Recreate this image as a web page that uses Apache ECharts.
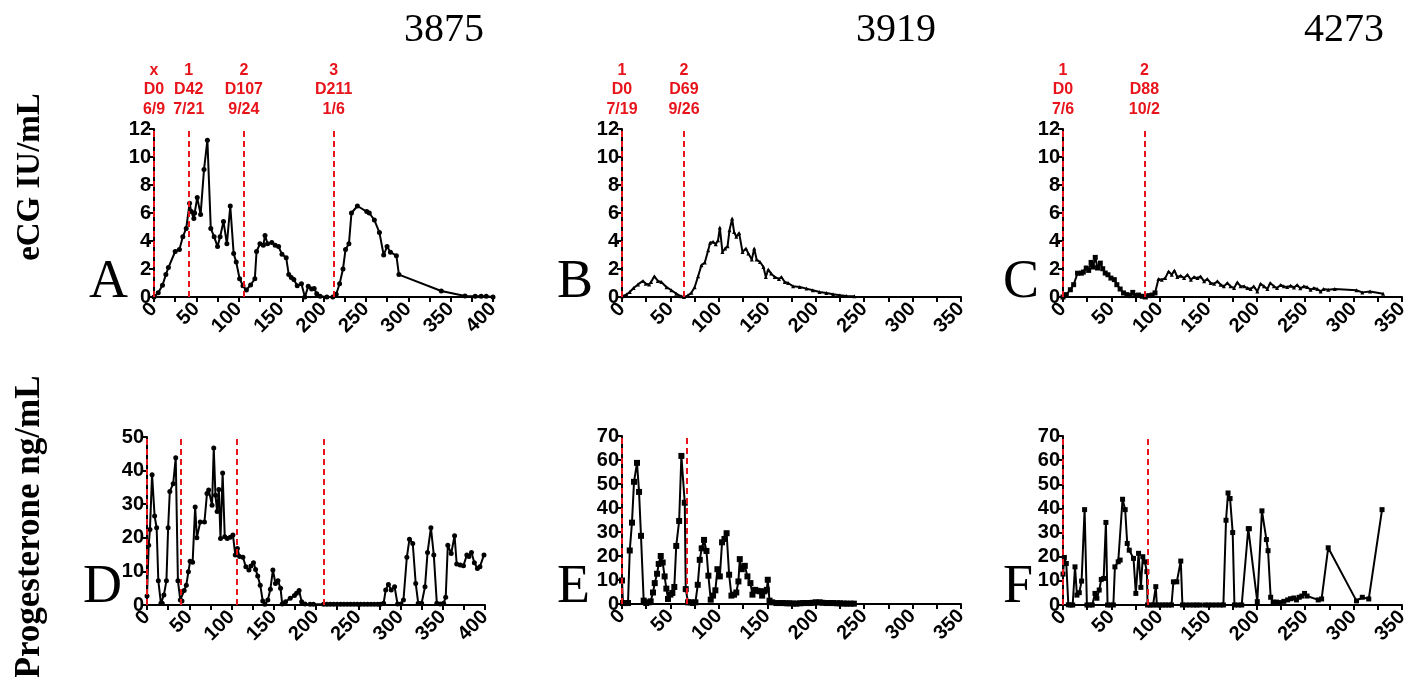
<!DOCTYPE html>
<html>
<head>
<meta charset="utf-8">
<script src="https://cdn.jsdelivr.net/npm/echarts@6/dist/echarts.min.js"></script>
<style>
html,body{margin:0;padding:0;background:#fff;}
#chart{width:1419px;height:677px;}
</style>
</head>
<body>
<div id="chart"></div>
<script>
// ---------- DATA ----------
var animalIds = ['3875', '3919', '4273'];
var panelLetters = ['A', 'B', 'C', 'D', 'E', 'F'];

var ecg3875 = [[0,0],[5,0.3],[10,0.84],[14,1.6],[17,2.1],[25,3.25],[30,3.4],[34,4.3],[38,4.9],[42,6.7],[44,6.1],[47,5.6],[48,6.0],[51,7.1],[55,5.9],[59,9.1],[63,11.2],[67,4.9],[71,4.3],[75,3.6],[78,4.3],[82,5.4],[86,3.8],[90,6.5],[94,3.1],[97,2.5],[101,1.3],[105,0.8],[109,0.5],[114,0.86],[119,1.3],[121,3.25],[125,3.8],[129,3.7],[131,4.4],[134,3.8],[139,3.9],[143,3.7],[147,3.6],[151,3.05],[156,2.8],[159,1.6],[162,1.4],[165,1.25],[169,0.8],[174,0.95],[178,0],[182,0.76],[186,0.57],[189,0.6],[192,0.24],[196,0.05],[204,0],[211,0],[215,0.2],[219,0.95],[223,2.0],[226,3.4],[230,3.8],[233,6.0],[240,6.5],[251,6.1],[254,6.0],[260,5.5],[266,4.6],[271,3.0],[275,3.6],[279,3.2],[286,2.95],[289,1.6],[339,0.43],[367,0.07],[379,0.05],[386,0.05],[392,0.05],[400,0]];

var ecg3919 = [[0,0.05],[4.5,0.17],[8,0.36],[12,0.64],[16.5,0.9],[21.7,1.15],[24.5,0.95],[28,0.9],[30,1.07],[33.4,1.48],[37,1.15],[40.6,1.07],[46,0.7],[51,0.48],[56,0.24],[61,0.05],[64,0],[68,0.1],[71.6,0.31],[75,0.7],[78.6,1.48],[82,2.27],[85.5,2.46],[89,3.34],[91,3.87],[94,3.94],[96.8,3.77],[99.2,4.06],[101,4.96],[103.7,3.22],[106.5,3.46],[109,3.63],[111,4.77],[113.7,5.6],[115.7,4.65],[118,4.3],[120.9,4.58],[124.4,3.22],[128,3.46],[130.5,3.1],[134,2.67],[136.5,3.46],[139,2.67],[142.5,2.5],[146,2.15],[148.5,1.43],[151,1.96],[154,1.67],[157.7,1.43],[162,1.29],[164.6,1.43],[168,1.07],[171.5,1.0],[176.7,0.76],[183.6,0.72],[190.5,0.6],[197,0.48],[204,0.36],[211,0.29],[218,0.19],[225,0.12],[232,0.07],[240,0.05]];

var ecg4273 = [[0,0],[3.4,0.17],[7.6,0.52],[11,0.88],[15,1.7],[19,1.7],[21,1.78],[24,2.07],[26.5,1.9],[29,2.47],[31,2.14],[33.3,2.83],[35.7,2.07],[38.5,2.42],[41,2.02],[43.6,1.71],[46.4,1.59],[49.5,1.35],[53,1.24],[55.6,0.88],[59,0.57],[62.5,0.29],[66,0.17],[69.4,0.1],[72,0.33],[75,0.1],[78,0.14],[82,0.05],[85,0],[88.6,0.1],[92,0.14],[95,0.29],[98.6,1.28],[102,1.24],[105.5,1.35],[109,1.83],[112.3,1.59],[115,1.9],[118,1.43],[121.6,1.52],[125,1.35],[128.5,1.59],[132,1.24],[135.3,1.43],[138.8,1.35],[142,1.47],[145.7,1.12],[149,1.28],[152.5,1.0],[156,0.95],[159.4,1.12],[162.8,0.88],[166,0.76],[169.7,1.0],[173,0.76],[176.6,0.64],[180,1.05],[183.4,0.76],[187,0.76],[190.3,0.64],[193.7,0.57],[197,0.76],[200.6,0.4],[204,0.95],[207.5,0.76],[211,0.57],[214,1.0],[217.8,0.76],[221,0.64],[224.7,0.86],[228,0.76],[231.5,0.71],[235,0.81],[238.4,0.67],[241.8,0.86],[245,0.62],[248.7,0.76],[252,0.71],[255.6,0.52],[259,0.64],[262.5,0.57],[266,0.4],[269,0.57],[273.8,0.52],[280.6,0.57],[303,0.48],[309,0.33],[317,0.4],[330.5,0.24]];

var prog3875 = [[0,2.7],[2,17.8],[3.5,22.5],[6,38.8],[9,26.5],[11.4,23],[13.4,7.2],[16.5,0.5],[18,0.5],[20,3],[23,7.2],[25,23],[27,33.8],[31,36.1],[34,43.8],[36.6,7.2],[39.4,1.5],[41.4,1.2],[44,4.3],[46.5,5.9],[49,9.9],[51,13],[54,12.7],[57,29.2],[59,20],[63,24.7],[68,24.7],[71,33.2],[73,34.2],[77,29.7],[79,46.7],[81,32.7],[83,27.8],[85,34.4],[87,19.8],[89.5,39.3],[92,20.3],[95,19.8],[98.5,20.2],[101.7,20.8],[104.5,14.9],[107,16.8],[109.5,14.4],[113.5,14.2],[117,11.4],[120.6,10.4],[123,11.6],[126,12.6],[128.5,10.6],[131,8.6],[134,5.9],[137,1.2],[139.5,0.2],[143,1.5],[146,4.7],[149,10.4],[152,6.4],[155,7.2],[158,5],[160,0.3],[164,1],[169.5,2],[174.5,2.8],[177,3.5],[180,4.3],[183,1],[187,0.3],[193,0.2],[197,0.2],[209,0.2],[213,0.2],[217,0.2],[221,0.2],[225,0.2],[229,0.2],[233,0.2],[237,0.2],[241,0.2],[245,0.2],[249,0.2],[253,0.2],[257,0.2],[261,0.2],[265,0.2],[269,0.2],[273,0.2],[276,0.2],[280,0.5],[282.5,4.5],[285.7,6.1],[289,4.5],[293,5.4],[296.5,0.3],[300.5,0.3],[303.5,1.5],[307.5,14.2],[310.6,19.6],[314.5,18.3],[318,6.4],[321,0.5],[325,0.5],[329,5.4],[332,15.6],[336,23],[339.4,14.9],[343,0.5],[347,0.3],[351,0.5],[353.5,2.3],[356,17.8],[360,15.3],[364,20.6],[366.5,12.2],[370.6,11.9],[374.5,11.7],[378.5,14.9],[381,14.4],[384,15.6],[387.4,12.6],[391,10.9],[394,11.4],[398.8,14.9]];

var prog3919 = [[0,9.8],[1,0.4],[3.4,0.4],[6.2,0.4],[8,22.3],[10.3,33.9],[12.4,50.9],[15.5,58.8],[17.6,46.7],[19.6,28.4],[22.4,1.4],[25,0.4],[27.5,0.7],[29.6,1.1],[32,4.8],[33.8,8.7],[36.2,12.6],[37.9,16.7],[40,20],[42,17.3],[44,11.5],[45.8,6.4],[47.5,2.1],[50,3.9],[52,4.6],[54,7.1],[56,24.2],[59,34.6],[61.3,61.7],[64.8,42.2],[65.8,6.2],[68.2,0.7],[71,0.7],[73.4,0.4],[75.8,0.7],[78.2,8.0],[80.3,18.4],[82.3,23.2],[84.7,26.7],[87.2,22.1],[89.2,11.8],[91.6,1.8],[94,3.5],[96.4,5.7],[98.5,14.5],[101,11.5],[103.3,25.7],[105.8,27.1],[108,29.5],[110.6,12.2],[113,3.5],[115.7,3.9],[118,4.8],[120.2,9.4],[121.6,18.7],[123.7,14.5],[126.8,15.9],[129.5,11.5],[132.6,8.7],[134.7,3.9],[137.4,5.9],[139.9,5.5],[142.3,5.3],[144.7,3.5],[147,5.3],[149.5,5.9],[150.5,10.1],[152.3,1.4],[155,0.7],[159.5,0.4],[163,0.4],[166.4,0.4],[170,0.3],[173,0.3],[177,0.2],[180,0.15],[184,0.3],[187,0.4],[191,0.4],[194,0.4],[197,0.5],[200,0.7],[204,0.7],[207,0.5],[211,0.4],[215,0.4],[218,0.4],[222,0.3],[225,0.3],[229,0.2],[232,0.15],[236,0.15],[239.4,0.15]];

var prog4273 = [[0,12.8],[1.4,19.7],[3.4,17.2],[5.5,0.1],[7.6,0],[10,0],[12.4,15.8],[14.4,4.1],[16.8,5.1],[19.2,9.9],[22.3,39.5],[24.7,0],[27.5,0],[30.2,0],[33,4.8],[35,2.8],[37.4,6.2],[39.5,10.6],[42,11],[44.3,34.2],[46,0],[48.8,0],[52,0],[53.6,15.8],[57,17.9],[59,18.6],[61.5,43.8],[64.2,39.5],[66.3,25.5],[68.4,22.7],[72.8,19.3],[75.2,4.8],[78,21.4],[80.4,7.3],[82.4,20.0],[84.5,17.9],[86.6,13.8],[87.3,0],[90,0],[93,0],[95.8,7.6],[96.9,0],[100,0],[103,0],[106,0],[109,0],[112,0],[114,9.6],[117.5,9.6],[121.6,18.2],[123.3,0],[127,0],[131,0],[135,0],[138,0],[141.5,0],[146.7,0],[150,0],[154,0],[158,0],[162,0],[165.6,0],[168.3,35.1],[170.4,46.4],[172.5,44.1],[175.2,30],[177,0],[181,0],[184.5,0],[191.3,31.6],[192.4,31.6],[200.6,1.4],[205.4,39],[210,27.1],[211.7,22.5],[214.4,3.2],[217,1.2],[220.5,1.2],[224,1.0],[228,1.5],[231.9,2.1],[235,2.6],[238.4,2.9],[241,2.1],[243.9,3.2],[246.6,3.7],[249.4,4.8],[252,3.7],[263.5,2.1],[267,2.5],[273.8,23.7],[303,1.7],[309,3.2],[315.7,2.5],[329.4,39.5]];

// vertical event markers: [day position, label]
var events3875 = [[0,'x\nD0\n6/9'],[41,'1\nD42\n7/21'],[106,'2\nD107\n9/24'],[212,'3\nD211\n1/6']];
var events3875P = [[0,''],[40,''],[106,''],[209,'']];
var events3919 = [[0,'1\nD0\n7/19'],[64,'2\nD69\n9/26']];
var events3919P = [[0,''],[67,'']];
var events4273 = [[0,'1\nD0\n7/6'],[84,'2\nD88\n10/2']];
var events4273P = [[0,''],[87,'']];
// day from which the 4273 eCG series is plotted with triangle markers
var ecg4273TriangleFrom = 96;

// ---------- LAYOUT ----------
var grids = [
  {left:154, top:129, width:339, height:168},
  {left:622, top:129, width:339, height:168},
  {left:1063, top:129, width:339, height:168},
  {left:147, top:437, width:338, height:168},
  {left:622, top:436, width:339, height:168},
  {left:1063, top:436, width:339, height:169}
];
var xMaxes = [400, 350, 350, 400, 350, 350];
var yMaxes = [12, 12, 12, 50, 70, 70];
var yIntervals = [2, 2, 2, 10, 10, 10];
var seriesData = [ecg3875, ecg3919, ecg4273, prog3875, prog3919, prog4273];
var eventData = [events3875, events3919, events4273, events3875P, events3919P, events4273P];
var symbols = ['circle', 'triangle', 'rect', 'circle', 'rect', 'rect'];
var symbolSizes = [5, 4, 5, 5, 6, 5];

var sansBold = {fontFamily:'Liberation Sans', fontWeight:'bold', color:'#000'};

var xAxes = [], yAxes = [], series = [];
for (var i = 0; i < 6; i++) {
  xAxes.push({
    gridIndex:i, type:'value', min:0, max:xMaxes[i], interval:50,
    axisLine:{show:true, onZero:false, lineStyle:{color:'#000', width:2}},
    axisTick:{show:true, length:5, lineStyle:{color:'#000', width:2}},
    minorTick:{show:true, splitNumber:2, length:5, lineStyle:{color:'#000', width:2}},
    splitLine:{show:false},
    axisLabel:Object.assign({rotate:45, fontSize:20, margin:9}, sansBold)
  });
  yAxes.push({
    gridIndex:i, type:'value', min:0, max:yMaxes[i], interval:yIntervals[i],
    axisLine:{show:true, lineStyle:{color:'#000', width:2}},
    axisTick:{show:true, length:5, lineStyle:{color:'#000', width:2}},
    splitLine:{show:false},
    axisLabel:Object.assign({fontSize:20, margin:3}, sansBold)
  });
  var ml = eventData[i].map(function (e) {
    return {xAxis:e[0], label:{formatter:e[1]}};
  });
  var data = seriesData[i];
  if (i === 2) {
    data = data.map(function (p) {
      return p[0] >= ecg4273TriangleFrom ? {value:p, symbol:'triangle', symbolSize:4} : p;
    });
  }
  series.push({
    type:'line', xAxisIndex:i, yAxisIndex:i,
    data:data,
    symbol:symbols[i], symbolSize:symbolSizes[i], showAllSymbol:true,
    lineStyle:{color:'#000', width:2},
    itemStyle:{color:'#000'},
    z:3,
    markLine:{
      silent:true, symbol:['none','none'], animation:false,
      lineStyle:{color:'#e8141b', type:[6,4], width:2},
      label:{show:true, position:'end', color:'#e8141b', fontFamily:'Liberation Sans',
             fontWeight:'bold', fontSize:16, lineHeight:19.5, distance:10},
      data:ml
    }
  });
}

var serif = 'Liberation Serif';
var titles = [
  {text:animalIds[0], left:399, top:5},
  {text:animalIds[1], left:851, top:5},
  {text:animalIds[2], left:1299, top:5}
].map(function (t) {
  t.textStyle = {fontFamily:serif, fontSize:40, fontWeight:'normal', color:'#000'};
  return t;
});
var letterPos = [[84,251],[552,251],[998,251],[78,556],[552,556],[998,556]];
letterPos.forEach(function (p, k) {
  titles.push({text:panelLetters[k], left:p[0], top:p[1],
    textStyle:{fontFamily:serif, fontSize:54, fontWeight:'normal', color:'#000'}});
});

var option = {
  animation:false,
  backgroundColor:'#fff',
  title:titles,
  grid:grids,
  xAxis:xAxes,
  yAxis:yAxes,
  series:series,
  graphic:[
    {type:'text', x:30, y:177, rotation:Math.PI/2,
     style:{text:'eCG IU/mL', fontFamily:serif, fontWeight:'bold', fontSize:33, fill:'#000',
            textAlign:'center', textVerticalAlign:'middle', verticalAlign:'middle'}},
    {type:'text', x:30, y:527, rotation:Math.PI/2,
     style:{text:'Progesterone ng/mL', fontFamily:serif, fontWeight:'bold', fontSize:35, fill:'#000',
            textAlign:'center', textVerticalAlign:'middle', verticalAlign:'middle'}}
  ]
};

var chart = echarts.init(document.getElementById('chart'));
chart.setOption(option);
</script>
</body>
</html>
